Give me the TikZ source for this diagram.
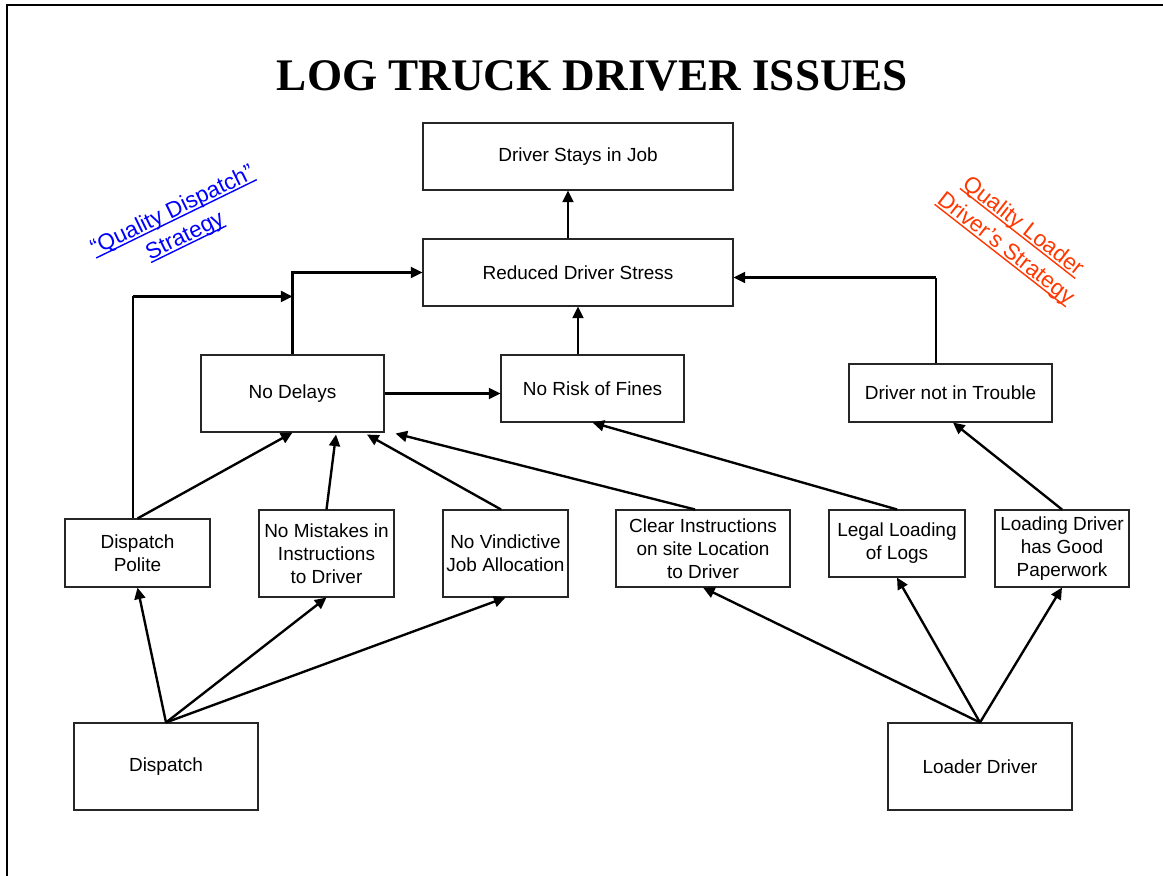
\documentclass[tikz,border=0pt]{standalone}
\usepackage{fontspec}
\setmainfont{Liberation Sans}
\newfontfamily\titlefont{Liberation Serif}
\usepackage{xcolor}
\usepackage{tikz}
\usetikzlibrary{arrows.meta, positioning, calc}
\definecolor{dispblue}{RGB}{0,0,255}
\definecolor{loadred}{RGB}{255,55,0}
% underline sitting just under the baseline
\newcommand\stratline[1]{\setbox0\hbox{#1}\rlap{\rule[-1.8pt]{\wd0}{0.8pt}}\box0}

\begin{document}
\begin{tikzpicture}[
    box/.style={draw=black!85, line width=0.6pt, inner sep=1pt, align=center,
                font=\fontsize{10.8}{13.1}\selectfont},
    arr/.style={line width=1.35pt, -{Triangle[length=6.6pt, width=6.2pt]}},
    thinline/.style={line width=0.7pt},
    strategy/.style={align=center, font=\fontsize{12.8}{16}\selectfont}]
  \useasboundingbox (0,0) rectangle (23.26,-17.52);
  % page frame, cut off at right and bottom
  \draw[line width=1pt] (0.14,-17.6) -- (0.14,-0.1) -- (23.4,-0.1);

  \node[anchor=base] (title) at (11.85,-1.80)
    {\titlefont\bfseries\fontsize{25.7}{30}\selectfont LOG TRUCK DRIVER ISSUES};

  % top of the chain
  \node[box, minimum width=6.20cm, minimum height=1.34cm] (stay) at (11.56,-3.13) {Driver Stays in Job};
  \node[box, minimum width=6.20cm, minimum height=1.34cm] (rds) at (11.56,-5.45) {Reduced Driver Stress};

  % middle row
  \node[box, minimum width=3.66cm, minimum height=1.54cm] (nodel) at (5.85,-7.87) {No Delays};
  \node[box, minimum width=3.66cm, minimum height=1.34cm] (nrisk) at (11.85,-7.77) {No Risk of Fines};
  \node[box, minimum width=4.06cm, minimum height=1.16cm] (dnt) at (19.01,-7.86) {Driver not in Trouble};

  % lower row
  \node[box, minimum width=2.90cm, minimum height=1.36cm] (dpol) at (2.75,-11.06) {Dispatch\\Polite};
  \node[box, minimum width=2.70cm, minimum height=1.74cm] (nmis) at (6.53,-11.07) {No Mistakes in\\Instructions\\to Driver};
  \node[box, minimum width=2.50cm, minimum height=1.74cm] (nvin) at (10.11,-11.07) {No Vindictive\\Job Allocation};
  \node[box, minimum width=3.48cm, minimum height=1.54cm] (clr) at (14.06,-10.97) {Clear Instructions\\on site Location\\to Driver};
  \node[box, minimum width=2.72cm, minimum height=1.34cm] (legal) at (17.94,-10.87) {Legal Loading\\of Logs};
  \node[box, minimum width=2.68cm, minimum height=1.54cm] (ldp) at (21.24,-10.97) {Loading Driver\\has Good\\Paperwork};

  % sources
  \node[box, minimum width=3.68cm, minimum height=1.74cm] (disp) at (3.32,-15.33) {Dispatch};
  \node[box, minimum width=3.68cm, minimum height=1.74cm] (ldr) at (19.60,-15.33) {Loader Driver};

  % strategy captions
  \node[strategy, text=dispblue, rotate=26] (qds) at (3.58,-4.48)
    {\stratline{“Quality Dispatch”}\\\stratline{Strategy}};
  \node[strategy, text=loadred, rotate=-38] (qls) at (20.28,-4.76)
    {\stratline{Quality Loader}\\\stratline{Driver’s Strategy}};

  % upper connectors
  \draw[arr] ([xshift=-0.2cm]rds.north) -- ([xshift=-0.2cm]stay.south);
  \draw[arr] (rds.south |- nrisk.north) -- (rds.south);
  \draw[arr] (nodel.north) |- (rds.west);
  \draw[arr] (nodel.east) -- (nodel.east -| nrisk.west);
  \coordinate (join) at ($(nodel.north)+(0,1.16)$);
  \draw[thinline] ([xshift=-0.09cm]dpol.north) -- ([xshift=-0.09cm]dpol.north |- join);
  \draw[arr] ([xshift=-0.09cm]dpol.north |- join) -- (join);
  \coordinate (rdsin) at ($(rds.east)+(0,-0.1)$);
  \draw[thinline] ([xshift=-0.29cm]dnt.north) -- ([xshift=-0.29cm]dnt.north |- rdsin);
  \draw[arr] ([xshift=-0.29cm]dnt.north |- rdsin) -- (rdsin);

  % into the middle row
  \coordinate (ndgap) at ($(nodel.south east)+(0.22,-0.02)$);
  \draw[arr] (dpol.north) -- (nodel.south);
  \draw[arr] (nmis.north) -- ($(nodel.south)+(0.87,-0.04)$);
  \draw[arr] ([xshift=-0.09cm]nvin.north) -- ($(nodel.south)+(1.49,-0.04)$);
  \draw[arr] ([xshift=-0.16cm]clr.north) -- (ndgap);
  \draw[arr] (legal.north) -- (nrisk.south);
  \draw[arr] (ldp.north) -- ([xshift=0.05cm]dnt.south);

  % fan-out from the sources
  \foreach \dst in {dpol, nmis, nvin}
    \draw[arr] (disp.north) -- (\dst.south);
  \foreach \dst in {clr, legal, ldp}
    \draw[arr] (ldr.north) -- (\dst.south);
\end{tikzpicture}
\end{document}
